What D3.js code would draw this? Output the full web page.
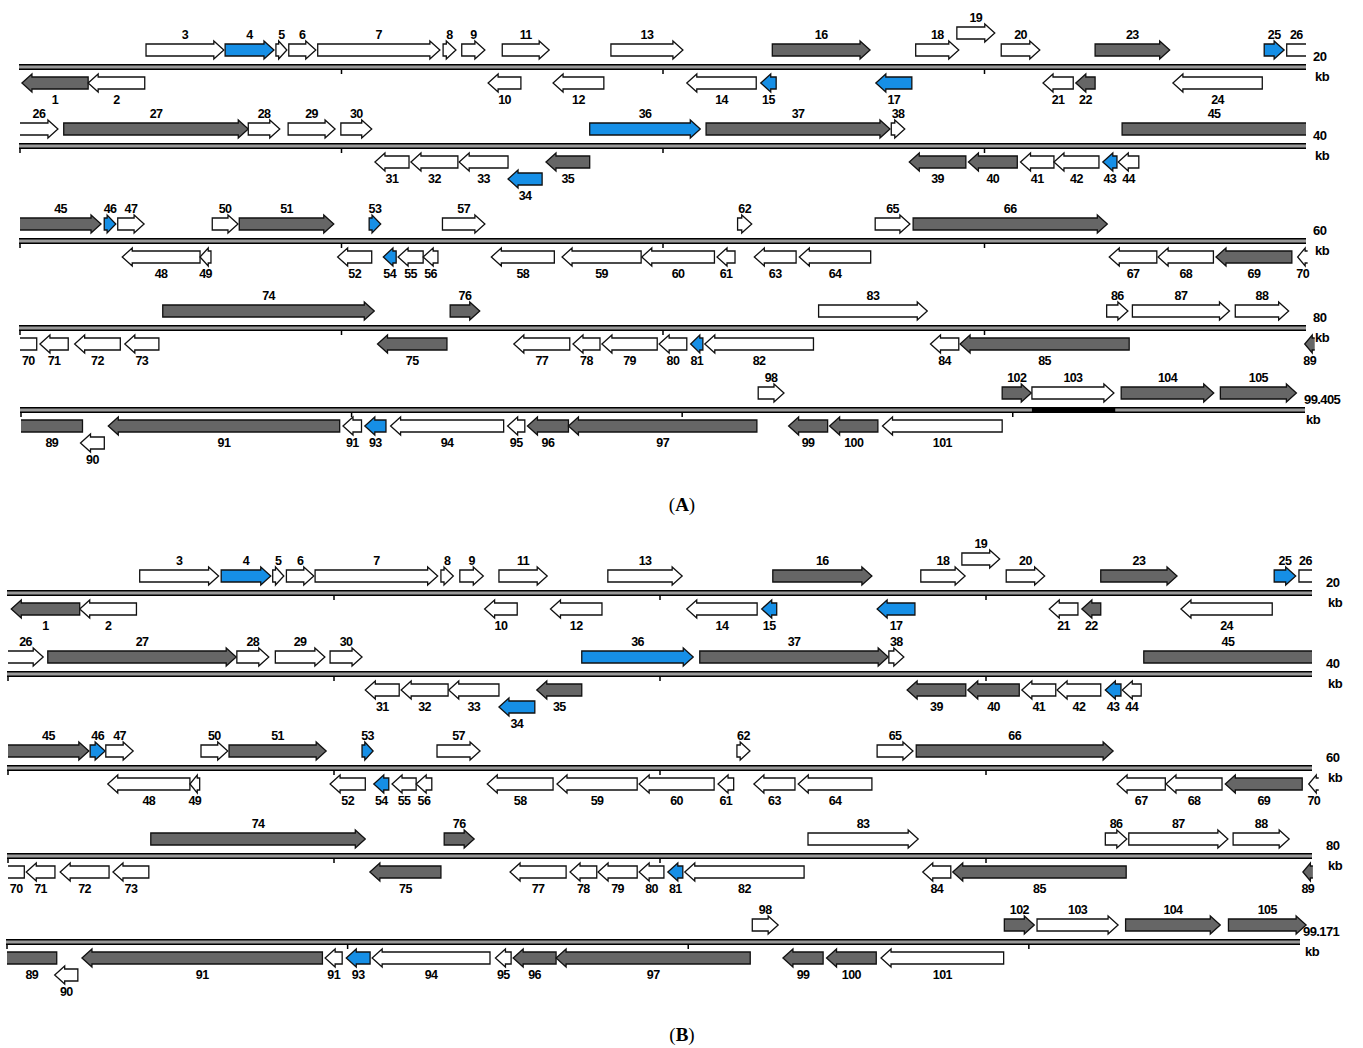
<!DOCTYPE html>
<html><head><meta charset="utf-8">
<script src="https://cdn.jsdelivr.net/npm/d3@7/dist/d3.min.js"></script>
<style>body{margin:0;background:#fff}</style>
</head><body><svg id="c" width="1363" height="1048"></svg>
<script>
// ---- DATA ----
// gene: [label, start kb, end kb, strand (1 fwd / -1 rev), type (w=white,g=grey,b=blue), lane offset]
const genesA = [
["1",0.03,1.06,-1,"g"],["2",1.06,1.94,-1,"w"],["3",1.96,3.17,1,"w"],["4",3.19,3.95,1,"b"],
["5",3.98,4.15,1,"w"],["6",4.18,4.60,1,"w"],["7",4.63,6.53,1,"w"],["8",6.58,6.78,1,"w"],
["9",6.87,7.23,1,"w"],["10",7.28,7.79,-1,"w"],["11",7.50,8.23,1,"w"],["12",8.29,9.08,-1,"w"],
["13",9.19,10.31,1,"w"],["14",10.37,11.45,-1,"w"],["15",11.52,11.76,-1,"b"],["16",11.70,13.22,1,"g"],
["17",13.31,13.87,-1,"b"],["18",13.93,14.60,1,"w"],["19",14.57,15.16,1,"w",1],["20",15.26,15.86,1,"w"],
["21",15.91,16.38,-1,"w"],["22",16.42,16.72,-1,"g"],["23",16.72,17.88,1,"g"],["24",17.93,19.32,-1,"w"],
["25",19.35,19.66,1,"b"],["26",19.70,20.59,1,"w"],
["27",20.68,23.55,1,"g"],["28",23.55,24.04,1,"w"],["29",24.17,24.90,1,"w"],["30",24.99,25.47,1,"w"],
["31",25.52,26.05,-1,"w"],["32",26.08,26.81,-1,"w"],["33",26.83,27.59,-1,"w"],["34",27.59,28.12,-1,"b",1],
["35",28.18,28.86,-1,"g"],["36",28.86,30.58,1,"b"],["37",30.67,33.53,1,"g"],["38",33.55,33.76,1,"w"],
["39",33.83,34.71,-1,"g"],["40",34.75,35.51,-1,"g"],["41",35.56,36.08,-1,"w"],["42",36.08,36.78,-1,"w"],
["43",36.84,37.06,-1,"b"],["44",37.08,37.40,-1,"w"],["45",37.14,41.26,1,"g"],
["46",41.31,41.49,1,"b"],["47",41.52,41.93,1,"w"],["48",41.59,42.80,-1,"w"],["49",42.80,42.97,-1,"w"],
["50",42.99,43.39,1,"w"],["51",43.41,44.88,1,"g"],["52",44.94,45.47,-1,"w"],["53",45.43,45.61,1,"b"],
["54",45.65,45.85,-1,"b"],["55",45.88,46.27,-1,"w"],["56",46.27,46.50,-1,"w"],["57",46.57,47.23,1,"w"],
["58",47.33,48.31,-1,"w"],["59",48.43,49.66,-1,"w"],["60",49.67,50.80,-1,"w"],["61",50.84,51.12,-1,"w"],
["62",51.16,51.38,1,"w"],["63",51.42,52.07,-1,"w"],["64",52.12,53.23,-1,"w"],["65",53.30,53.84,1,"w"],
["66",53.89,56.91,1,"g"],["67",56.94,57.68,-1,"w"],["68",57.70,58.56,-1,"w"],["69",58.60,59.78,-1,"g"],
["70",59.87,60.26,-1,"w"],
["71",60.31,60.75,-1,"w"],["72",60.85,61.56,-1,"w"],["73",61.63,62.16,-1,"w"],["74",62.22,65.51,1,"g"],
["75",65.56,66.64,-1,"g"],["76",66.69,67.15,1,"g"],["77",67.68,68.55,-1,"w"],["78",68.60,69.02,-1,"w"],
["79",69.05,69.91,-1,"w"],["80",69.94,70.37,-1,"w"],["81",70.43,70.62,-1,"b"],["82",70.65,72.34,-1,"w"],
["83",72.42,74.11,1,"w"],["84",74.16,74.60,-1,"w"],["85",74.62,77.25,-1,"g"],["86",76.90,77.23,1,"w"],
["87",77.30,78.81,1,"w"],["88",78.90,79.73,1,"w"],["89",79.98,80.93,-1,"g"],
["90",80.90,81.26,-1,"w",1],["91",81.32,84.82,-1,"g"],["91",84.87,85.15,-1,"w"],["93",85.20,85.52,-1,"b"],
["94",85.59,87.30,-1,"w"],["95",87.36,87.62,-1,"w"],["96",87.66,88.28,-1,"g"],["97",88.28,91.13,-1,"g"],
["98",91.15,91.54,1,"w"],["99",91.61,92.20,-1,"g"],["100",92.23,92.96,-1,"g"],["101",93.03,94.84,-1,"w"],
["102",94.84,95.28,1,"g"],["103",95.29,96.53,1,"w"],["104",96.64,98.04,1,"g"],["105",98.14,99.29,1,"g"]
];
const genesB = [
["1",0.05,1.10,-1,"g"],["2",1.10,1.97,-1,"w"],["3",2.02,3.23,1,"w"],["4",3.27,4.03,1,"b"],
["5",4.06,4.23,1,"w"],["6",4.27,4.69,1,"w"],["7",4.71,6.59,1,"w"],["8",6.64,6.83,1,"w"],
["9",6.93,7.29,1,"w"],["10",7.31,7.81,-1,"w"],["11",7.53,8.27,1,"w"],["12",8.32,9.11,-1,"w"],
["13",9.20,10.34,1,"w"],["14",10.41,11.49,-1,"w"],["15",11.56,11.79,-1,"b"],["16",11.73,13.25,1,"g"],
["17",13.33,13.91,-1,"b"],["18",14.00,14.68,1,"w"],["19",14.63,15.21,1,"w",1],["20",15.31,15.90,1,"w"],
["21",15.97,16.41,-1,"w"],["22",16.47,16.76,-1,"g"],["23",16.76,17.93,1,"g"],["24",17.99,19.39,-1,"w"],
["25",19.42,19.75,1,"b"],["26",19.80,20.54,1,"w"],
["27",20.61,23.50,1,"g"],["28",23.51,24.00,1,"w"],["29",24.10,24.86,1,"w"],["30",24.94,25.43,1,"w"],
["31",25.48,26.00,-1,"w"],["32",26.03,26.75,-1,"w"],["33",26.76,27.53,-1,"w"],["34",27.53,28.08,-1,"b",1],
["35",28.11,28.80,-1,"g"],["36",28.80,30.51,1,"b"],["37",30.61,33.50,1,"g"],["38",33.51,33.74,1,"w"],
["39",33.79,34.69,-1,"g"],["40",34.72,35.51,-1,"g"],["41",35.55,36.07,-1,"w"],["42",36.09,36.76,-1,"w"],
["43",36.83,37.07,-1,"b"],["44",37.09,37.38,-1,"w"],["45",37.42,41.24,1,"g"],
["46",41.26,41.49,1,"b"],["47",41.50,41.92,1,"w"],["48",41.53,42.79,-1,"w"],["49",42.79,42.94,-1,"w"],
["50",42.96,43.37,1,"w"],["51",43.39,44.88,1,"g"],["52",44.94,45.48,-1,"w"],["53",45.43,45.60,1,"b"],
["54",45.61,45.84,-1,"b"],["55",45.89,46.26,-1,"w"],["56",46.26,46.50,-1,"w"],["57",46.58,47.24,1,"w"],
["58",47.35,48.36,-1,"w"],["59",48.42,49.65,-1,"w"],["60",49.68,50.83,-1,"w"],["61",50.89,51.13,-1,"w"],
["62",51.18,51.38,1,"w"],["63",51.44,52.07,-1,"w"],["64",52.12,53.25,-1,"w"],["65",53.33,53.88,1,"w"],
["66",53.93,56.95,1,"g"],["67",57.01,57.75,-1,"w"],["68",57.76,58.62,-1,"w"],["69",58.67,59.85,-1,"g"],
["70",59.95,60.25,-1,"w"],
["71",60.28,60.72,-1,"w"],["72",60.80,61.55,-1,"w"],["73",61.61,62.16,-1,"w"],["74",62.19,65.48,1,"g"],
["75",65.55,66.64,-1,"g"],["76",66.69,67.15,1,"g"],["77",67.70,68.56,-1,"w"],["78",68.62,69.03,-1,"w"],
["79",69.05,69.65,-1,"w"],["80",69.68,70.06,-1,"w"],["81",70.12,70.35,-1,"b"],["82",70.38,72.21,-1,"w"],
["83",72.27,73.96,1,"w"],["84",74.03,74.46,-1,"w"],["85",74.49,77.15,-1,"g"],["86",76.83,77.16,1,"w"],
["87",77.19,78.71,1,"w"],["88",78.79,79.65,1,"w"],["89",79.86,80.73,-1,"g"],
["90",80.70,81.04,-1,"w",1],["91",81.10,84.63,-1,"g"],["91",84.67,84.92,-1,"w"],["93",84.98,85.33,-1,"b"],
["94",85.36,87.09,-1,"w"],["95",87.17,87.40,-1,"w"],["96",87.43,88.06,-1,"g"],["97",88.06,90.91,-1,"g"],
["98",90.94,91.32,1,"w"],["99",91.39,91.98,-1,"g"],["100",92.03,92.76,-1,"g"],["101",92.83,94.63,-1,"w"],
["102",94.64,95.08,1,"g"],["103",95.12,96.31,1,"w"],["104",96.42,97.81,1,"g"],["105",97.93,99.07,1,"g"]
];
const rowStarts = [0, 20, 40, 60, 80];
const rowEndsA = [20, 40, 60, 80, 99.405];
const rowEndsB = [20, 40, 60, 80, 99.171];
const rowLabelsA = ["20", "40", "60", "80", "99.405"];
const rowLabelsB = ["20", "40", "60", "80", "99.171"];
const tickStep = 5;
const highlightA = [[95.29, 96.55]];
const highlightB = [];

// ---- LAYOUT ----
const FONT = "'Liberation Sans Narrow','Arial Narrow','Liberation Sans',Arial,sans-serif";
const colors = {w: "#ffffff", g: "#666666", b: "#168fe6"};
const svg = d3.select("#c");
svg.append("rect").attr("width", 1363).attr("height", 1048).attr("fill", "#fff");

const panels = [
  {genes: genesA, ends: rowEndsA, labels: rowLabelsA, hl: highlightA,
   lineY: [67, 146, 241, 328, 410],
   ranges: [[20,1306],[20,1306],[20,1306],[20,1306],[21,1304]],
   lineEnd: [1306,1306,1306,1306,1305],
   labX: [1313,1313,1313,1313,1304], caption: "A", capY: 511},
  {genes: genesB, ends: rowEndsB, labels: rowLabelsB, hl: highlightB,
   lineY: [593, 674, 768, 856, 942],
   ranges: [[8,1312],[8,1312],[8,1312],[8,1312],[7,1313]],
   lineEnd: [1312,1312,1312,1312,1300],
   labX: [1326,1326,1326,1326,1303], caption: "B", capY: 1041}
];

const HB = 6, HH = 9, HL = 10, FW = 17, RV = 16, LANE = 17;

panels.forEach(p => {
  const g = svg.append("g");
  rowStarts.forEach((rs, r) => {
    const re = p.ends[r];
    const x = d3.scaleLinear().domain([rs, re]).range(p.ranges[r]);
    const L = p.lineY[r];
    const x0 = x(rs) - 1, x1 = p.lineEnd[r];
    // backbone
    const bb = g.append("g");
    bb.append("rect").attr("x", x0).attr("y", L - 2.5).attr("width", x1 - x0).attr("height", 5).attr("fill", "#9a9a9a");
    [L - 2.2, L + 2.2].forEach(yy => bb.append("line").attr("x1", x0).attr("x2", x1).attr("y1", yy).attr("y2", yy)
      .attr("stroke", "#000").attr("stroke-width", 1.5));
    // ticks
    const ticks = d3.range(Math.ceil(rs / tickStep) * tickStep, re, tickStep).filter(t => t > 0);
    bb.selectAll("line.tk").data(ticks).enter().append("line").attr("class", "tk")
      .attr("x1", d => x(d)).attr("x2", d => x(d)).attr("y1", L + 2).attr("y2", L + 7)
      .attr("stroke", "#000").attr("stroke-width", 1.5);
    // highlight bars
    p.hl.filter(h => h[0] >= rs && h[1] <= re).forEach(h => {
      bb.append("rect").attr("x", x(h[0])).attr("y", L - 2.8).attr("width", x(h[1]) - x(h[0])).attr("height", 5.6).attr("fill", "#000");
    });
    // right labels
    g.append("text").attr("x", p.labX[r]).attr("y", L - 6).text(p.labels[r])
      .attr("font-family", FONT).attr("font-weight", "bold").attr("font-size", 13).attr("letter-spacing", -0.6);
    g.append("text").attr("x", p.labX[r] + 2).attr("y", L + 14).text("kb")
      .attr("font-family", FONT).attr("font-weight", "bold").attr("font-size", 13).attr("letter-spacing", -0.6);

    // genes in this row
    p.genes.forEach(gn => {
      const [lab, s, e, str, type, lane] = gn;
      if (e <= rs || s >= re) return;
      const cutL = s < rs, cutR = e > re;
      let xl = x(Math.max(s, rs)), xr = x(Math.min(e, re));
      const off = (lane ? LANE : 0);
      const cy = str > 0 ? L - FW - off : L + RV + off;
      const t = cy - HB, b = cy + HB, ht = cy - HH, hb = cy + HH;
      let pts, closed;
      if (str > 0) {
        if (!cutR) {
          const h = Math.min(HL, (xr - xl) * 0.75);
          pts = [[xl, t], [xr - h, t], [xr - h, ht], [xr, cy], [xr - h, hb], [xr - h, b], [xl, b]];
          closed = !cutL;
        } else {
          pts = [[xr, t], [xl, t], [xl, b], [xr, b]]; closed = false;
        }
      } else {
        if (!cutL) {
          if (cutR) xr = Math.max(xr, xl + HL);
          const h = Math.min(HL, (xr - xl) * 0.75);
          pts = [[xr, t], [xl + h, t], [xl + h, ht], [xl, cy], [xl + h, hb], [xl + h, b], [xr, b]];
          closed = !cutR;
        } else {
          pts = [[xl, t], [xr, t], [xr, b], [xl, b]]; closed = false;
        }
      }
      const line = d3.line();
      g.append("path").attr("d", line(pts) + "Z").attr("fill", colors[type]).attr("stroke", "none");
      g.append("path").attr("d", line(pts) + (closed ? "Z" : "")).attr("fill", "none")
        .attr("stroke", "#111").attr("stroke-width", 1.3).attr("stroke-linejoin", "miter");
      const lx = (xl + xr) / 2;
      const ly = str > 0 ? cy - 11 : cy + 21;
      g.append("text").attr("x", lx).attr("y", ly).attr("text-anchor", "middle").text(lab)
        .attr("font-family", FONT).attr("font-weight", "bold").attr("font-size", 12.5).attr("letter-spacing", -0.6);
    });
  });
  const cap = svg.append("text").attr("x", 682).attr("y", p.capY).attr("text-anchor", "middle")
    .attr("font-family", "'Liberation Serif','Times New Roman',serif").attr("font-size", 19);
  cap.append("tspan").text("(");
  cap.append("tspan").attr("font-weight", "bold").text(p.caption);
  cap.append("tspan").text(")");
});
</script></body></html>
